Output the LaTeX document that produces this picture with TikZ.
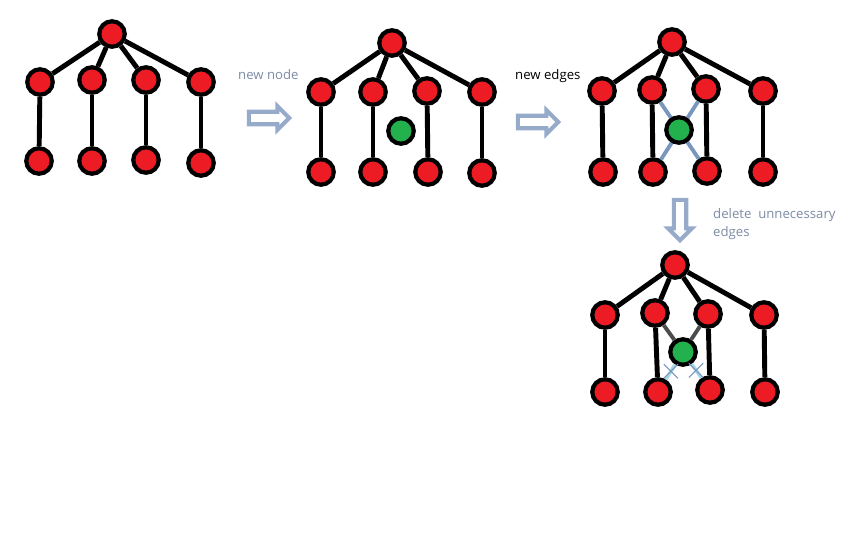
\documentclass[tikz,border=0pt]{standalone}
\usepackage{fontspec}
\setmainfont{Open Sans}
\usetikzlibrary{shapes.arrows,shapes.misc}
\definecolor{paintred}{RGB}{237,28,36}
\definecolor{paintgreen}{RGB}{34,177,76}
\definecolor{arrowblue}{RGB}{150,170,202}
\definecolor{labelgray}{RGB}{125,140,165}
\definecolor{edgeblue}{RGB}{120,150,190}
\definecolor{edgecyan}{RGB}{170,215,230}
\tikzset{
  vert/.style={circle,draw=black,fill=paintred,line width=2.4pt,minimum size=14.5pt,inner sep=0pt},
  newvert/.style={vert,fill=paintgreen},
  edge/.style={line width=2.8pt},
  stepar/.style={single arrow,draw=arrowblue,fill=white,line width=2.3pt,
    single arrow head extend=3.2pt,minimum height=23pt,inner sep=2.4pt},
  lbl/.style={font=\fontsize{7.5}{10}\selectfont,text=labelgray,align=left,anchor=west},
  cut/.style={cross out,draw=edgeblue,line width=0.6pt,minimum size=7.5pt,inner sep=0pt}
}
\begin{document}
\begin{tikzpicture}[x=0.02cm,y=-0.02cm]
            \useasboundingbox[fill=white] (0,0) rectangle (864,540);
            % first tree
            \node[vert] (a0) at (112,34) {};
            \node[vert] (a1) at (40,82) {};
            \node[vert] (a2) at (92,80) {};
            \node[vert] (a3) at (146,80) {};
            \node[vert] (a4) at (201,82) {};
            \node[vert] (a5) at (39,161) {};
            \node[vert] (a6) at (92,161) {};
            \node[vert] (a7) at (146,160) {};
            \node[vert] (a8) at (201,163) {};
            \draw[edge] (a0) -- (a1);
            \draw[edge] (a0) -- (a2);
            \draw[edge] (a0) -- (a3);
            \draw[edge] (a0) -- (a4);
            \draw[edge] (a1) -- (a5);
            \draw[edge] (a2) -- (a6);
            \draw[edge] (a3) -- (a7);
            \draw[edge] (a4) -- (a8);
            % step 1
            \node[stepar] (s1) at (266,118) {};
            \node[lbl] at (232,75) {new node};
            % second tree
            \node[vert] (b0) at (392,43) {};
            \node[vert] (b1) at (321,92) {};
            \node[vert] (b2) at (373,92) {};
            \node[vert] (b3) at (427,91) {};
            \node[vert] (b4) at (482,92) {};
            \node[vert] (b5) at (321,172) {};
            \node[vert] (b6) at (373,172) {};
            \node[vert] (b7) at (428,172) {};
            \node[vert] (b8) at (482,173) {};
            \node[newvert] (bn) at (401,131) {};
            \draw[edge] (b0) -- (b1);
            \draw[edge] (b0) -- (b2);
            \draw[edge] (b0) -- (b3);
            \draw[edge] (b0) -- (b4);
            \draw[edge] (b1) -- (b5);
            \draw[edge] (b2) -- (b6);
            \draw[edge] (b3) -- (b7);
            \draw[edge] (b4) -- (b8);
            % step 2
            \node[stepar] (s2) at (535,122) {};
            \node[lbl,text=black] at (509,76) {new edges};
            % third tree
            \node[vert] (c0) at (672,42) {};
            \node[vert] (c1) at (602,91) {};
            \node[vert] (c2) at (652,90) {};
            \node[vert] (c3) at (706,89) {};
            \node[vert] (c4) at (763,91) {};
            \node[vert] (c5) at (603,172) {};
            \node[vert] (c6) at (653,172) {};
            \node[vert] (c7) at (707,171) {};
            \node[vert] (c8) at (763,172) {};
            \draw[edge] (c0) -- (c1);
            \draw[edge] (c0) -- (c2);
            \draw[edge] (c0) -- (c3);
            \draw[edge] (c0) -- (c4);
            \draw[edge] (c1) -- (c5);
            \draw[edge] (c2) -- (c6);
            \draw[edge] (c3) -- (c7);
            \draw[edge] (c4) -- (c8);
            \draw[line width=2.2pt,edgeblue] (c2) -- (c7);
            \draw[line width=2.2pt,edgeblue] (c3) -- (c6);
            \node[newvert] (cn) at (679,130) {};
            % step 3
            \node[stepar,shape border rotate=270] (s3) at (680,217) {};
            \node[lbl] at (707,224) {delete\ \ unnecessary\\edges};
            % fourth tree
            \node[vert] (d0) at (675,265) {};
            \node[vert] (d1) at (605,315) {};
            \node[vert] (d2) at (655,313) {};
            \node[vert] (d3) at (708,314) {};
            \node[vert] (d4) at (764,315) {};
            \node[vert] (d5) at (605,392) {};
            \node[vert] (d6) at (658,392) {};
            \node[vert] (d7) at (710,390) {};
            \node[vert] (d8) at (765,392) {};
            \node[newvert] (dn) at (683,352) {};
            \draw[edge] (d0) -- (d1);
            \draw[edge] (d0) -- (d2);
            \draw[edge] (d0) -- (d3);
            \draw[edge] (d0) -- (d4);
            \draw[edge] (d1) -- (d5);
            \draw[edge] (d2) -- (d6);
            \draw[edge] (d3) -- (d7);
            \draw[edge] (d4) -- (d8);
            \draw[line width=2.2pt,black!70] (d2) -- (dn);
            \draw[line width=2.2pt,black!70] (d3) -- (dn);
            \draw[line width=2pt,edgecyan] (dn) -- node[cut,pos=0.45] {} (d6);
            \draw[line width=2pt,edgecyan] (dn) -- node[cut,pos=0.45] {} (d7);
        \end{tikzpicture}
\end{document}
